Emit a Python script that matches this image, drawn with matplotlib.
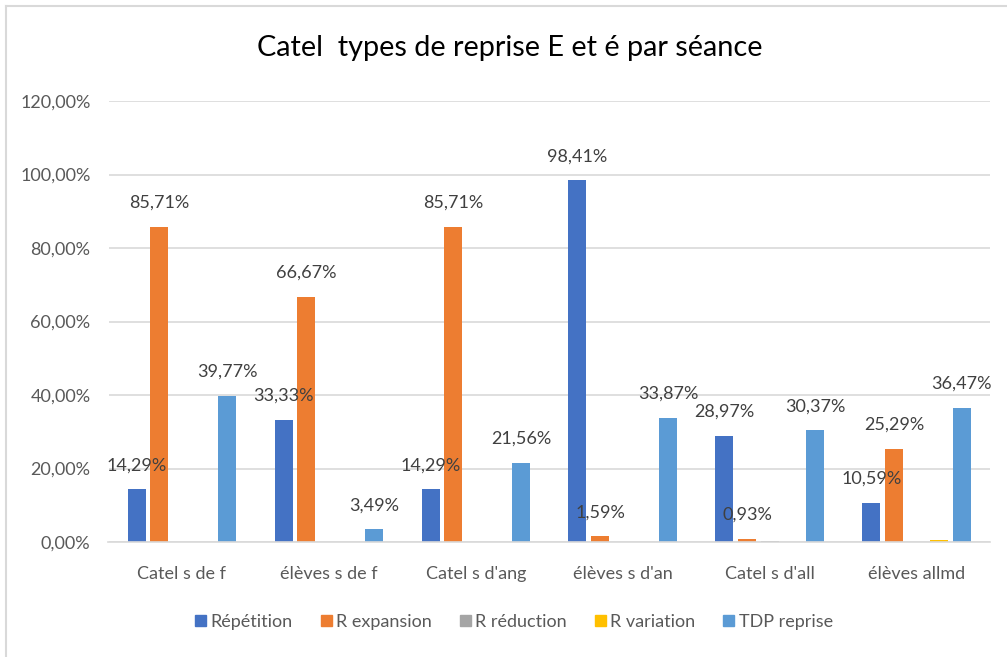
import matplotlib
matplotlib.use("Agg")
import matplotlib.pyplot as plt
from matplotlib.lines import Line2D
from matplotlib.ticker import FuncFormatter, MultipleLocator
import numpy as np

plt.rcParams['font.family'] = ['Lato', 'DejaVu Sans']

categories = ["Catel s de f", "élèves s de f", "Catel s d'ang", "élèves s d'an", "Catel s d'all", "élèves allmd"]
series_names = ["Répétition", "R expansion", "R réduction", "R variation", "TDP reprise"]
repetition = [14.29, 33.33, 14.29, 98.41, 28.97, 10.59]
r_expansion = [85.71, 66.67, 85.71, 1.59, 0.93, 25.29]
r_reduction = [0.0, 0.0, 0.0, 0.0, 0.27, 0.0]
r_variation = [0.0, 0.0, 0.0, 0.0, 0.0, 0.6]
tdp_reprise = [39.77, 3.49, 21.56, 33.87, 30.37, 36.47]
labelled = [True, True, False, False, True]
title = "Catel  types de reprise E et é par séance"

colors = ["#4472C4", "#ED7D31", "#A5A5A5", "#FFC000", "#5B9BD5"]
series = [repetition, r_expansion, r_reduction, r_variation, tdp_reprise]

fig = plt.figure(figsize=(10.07, 6.57), dpi=100)
W, H = 1007, 657
ax = fig.add_axes([108.5 / W, 1 - 542 / H, (990 - 108.5) / W, (542 - 101) / H])

x = np.arange(len(categories))
step = 0.154
width = 0.122
for i, (vals, col) in enumerate(zip(series, colors)):
    pos = x + (i - 2) * step
    ax.bar(pos, vals, width=width, color=col, label=series_names[i], zorder=2)
    if labelled[i]:
        for px, v in zip(pos, vals):
            ax.annotate(f"{v:.2f}%".replace(".", ","), (px, v), xytext=(0, 24),
                        textcoords="offset pixels", ha="center", va="center",
                        fontsize=13, color="#404040", zorder=5)

ax.set_xlim(-0.5, len(categories) - 0.5)
ax.set_ylim(0, 120)
ax.yaxis.set_major_locator(MultipleLocator(20))
ax.yaxis.set_major_formatter(FuncFormatter(lambda v, p: f"{v:.2f}%".replace(".", ",")))
ax.set_xticks(x)
ax.set_xticklabels(categories)
ax.tick_params(axis="both", length=0, labelsize=13, labelcolor="#595959")
ax.tick_params(axis="x", pad=17)
ax.tick_params(axis="y", pad=13)
ax.grid(axis="y", color="#D9D9D9", linewidth=1.2, zorder=0)
ax.set_axisbelow(True)
for s in ["top", "right", "left"]:
    ax.spines[s].set_visible(False)
ax.spines["bottom"].set_color("#D9D9D9")
ax.spines["bottom"].set_linewidth(1.2)

fig.text(510 / W, 1 - 48 / H, title, ha="center", va="center", fontsize=20.8, color="#000000")

handles = [plt.Rectangle((0, 0), 1, 1, color=c) for c in colors]
fig.legend(handles, series_names, loc="center", bbox_to_anchor=(514 / W, 1 - 622 / H),
           ncol=5, frameon=False, fontsize=13, labelcolor="#595959",
           handlelength=0.6, handleheight=0.6, handletextpad=0.25, columnspacing=1.55)

fig.add_artist(Line2D([6 / W, 6 / W], [0, 1 - 6 / H], color="#D9D9D9", linewidth=1.5, transform=fig.transFigure))
fig.add_artist(Line2D([6 / W, 1], [1 - 6 / H, 1 - 6 / H], color="#D9D9D9", linewidth=1.5, transform=fig.transFigure))

fig.savefig("out.png", dpi=100)
